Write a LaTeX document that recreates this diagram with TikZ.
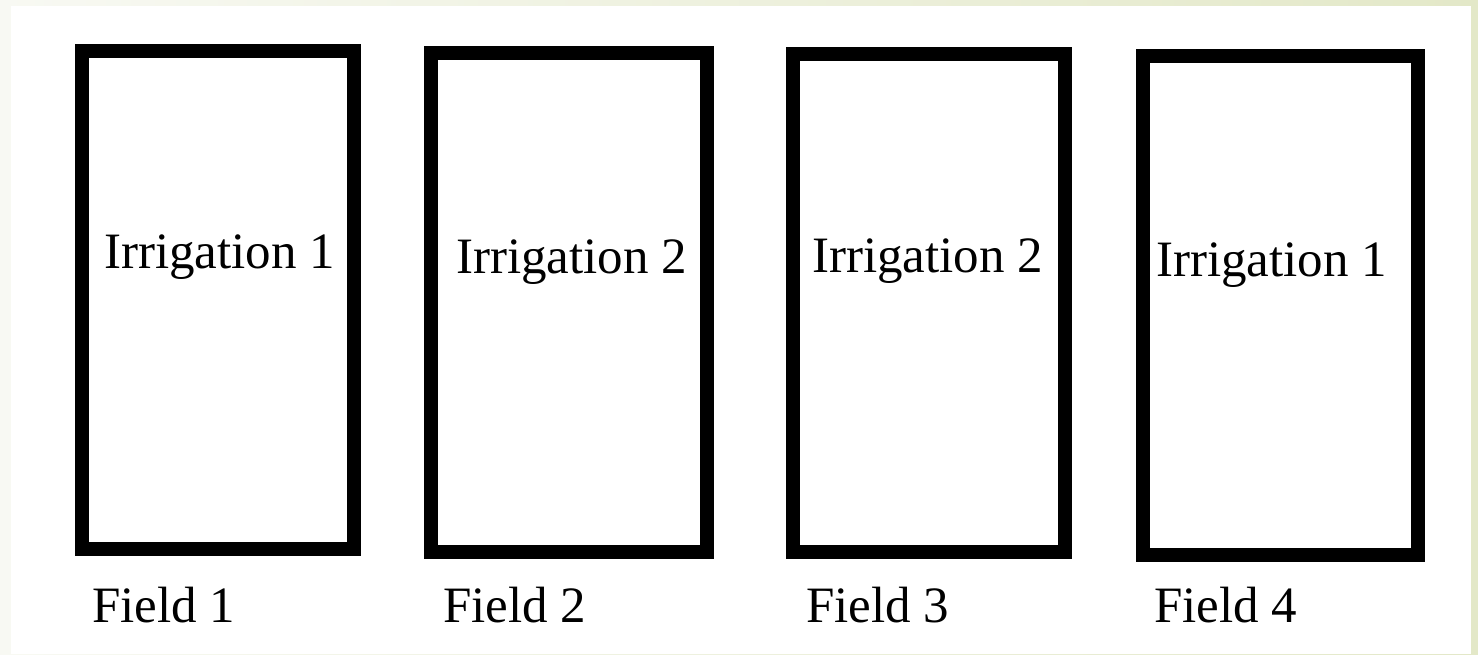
\documentclass[tikz,border=0pt]{standalone}
\usepackage{fontspec}
\setmainfont{Liberation Serif}
\definecolor{bgleft}{HTML}{F8F9F3}
\definecolor{bgright}{HTML}{E3E8C8}
\begin{document}
\begin{tikzpicture}[x=1pt,y=-1pt,
  fieldbox/.style={draw=black, line width=14pt, fill=white, minimum width=#1, inner sep=0pt, outer sep=0pt},
  lbl/.style={anchor=base west, inner sep=0pt, font=\fontsize{51}{61}\selectfont}]
\useasboundingbox (0,0) rectangle (1478,654);
\shade[left color=bgleft, right color=bgright] (0,0) rectangle (1478,654);
\fill[white] (11,6) rectangle (1471,654);
\node[fieldbox=272pt, minimum height=498pt] (r1) at (218,300) {};
\node[fieldbox=276pt, minimum height=499pt] (r2) at (569,302.5) {};
\node[fieldbox=272pt, minimum height=498pt] (r3) at (929,303) {};
\node[fieldbox=275pt, minimum height=499pt] (r4) at (1280.5,305.5) {};
\node[lbl] (i1) at (104,268) {Irrigation 1};
\node[lbl] (i2) at (456,273) {Irrigation 2};
\node[lbl] (i3) at (812,272) {Irrigation 2};
\node[lbl] (i4) at (1156,276) {Irrigation 1};
\node[lbl] (f1) at (92,622) {Field 1};
\node[lbl] (f2) at (443,622) {Field 2};
\node[lbl] (f3) at (806,622) {Field 3};
\node[lbl] (f4) at (1154,622) {Field 4};
\end{tikzpicture}
\end{document}
